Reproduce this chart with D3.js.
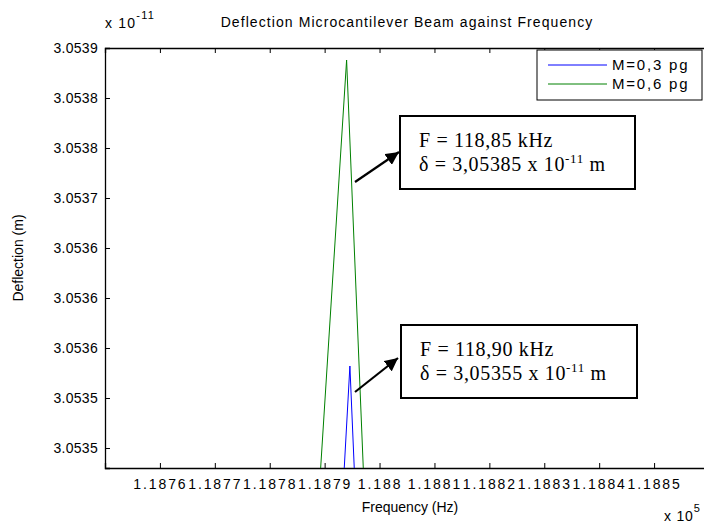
<!DOCTYPE html>
<html>
<head>
<meta charset="utf-8">
<script src="https://cdn.jsdelivr.net/npm/d3@7"></script>
<style>
  html, body { margin: 0; padding: 0; background: #fff; }
  svg { display: block; }
  text { font-family: "Liberation Sans", Arial, sans-serif; fill: #000; }
  .serif { font-family: "Liberation Serif", "Times New Roman", serif; }
</style>
</head>
<body>
<svg id="chart" width="704" height="524"></svg>
<script>
// ---- data (frequency in units of 1e5 Hz, deflection in units of 1e-11 m) ----
const seriesNames = ["M=0,3 pg", "M=0,6 pg"];
const seriesColors = ["#0000ff", "#008000"];
const freqBlue = [1.18792, 1.187946, 1.18797];
const deflBlue = [3.053274, 3.053532, 3.053223];
const freqGreen = [1.18785, 1.187940, 1.18800];
const deflGreen = [3.053061, 3.053838, 3.053032];

const xTickValues = [1.1876, 1.1877, 1.1878, 1.1879, 1.1880, 1.1881, 1.1882, 1.1883, 1.1884, 1.1885];
const xTickLabels = ["1.1876", "1.1877", "1.1878", "1.1879", "1.188", "1.1881", "1.1882", "1.1883", "1.1884", "1.1885"];
const yTickValues = [3.05385, 3.05380, 3.05375, 3.05370, 3.05365, 3.05360, 3.05355, 3.05350, 3.05345];
const yTickLabels = ["3.0539", "3.0538", "3.0538", "3.0537", "3.0536", "3.0536", "3.0536", "3.0535", "3.0535"];

const titleText = "Deflection Microcantilever Beam against Frequency";
const xLabel = "Frequency (Hz)";
const yLabel = "Deflection (m)";
const annotations = [
  { f: "F = 118,85 kHz", d: "3,05385" },
  { f: "F = 118,90 kHz", d: "3,05355" }
];

// ---- layout ----
const svg = d3.select("#chart");
const L = 105, R = 709, T = 48, B = 468;
const x = d3.scaleLinear().domain([1.1875, 1.1886]).range([L, R]);
const y = d3.scaleLinear().domain([3.05343, 3.05385]).range([B, T]);

svg.append("defs").append("clipPath").attr("id", "plotclip")
  .append("rect").attr("x", L).attr("y", T).attr("width", R - L).attr("height", B - T);

// axes
const xAxisB = d3.axisBottom(x).tickValues(xTickValues).tickSize(-5).tickPadding(11)
  .tickFormat((d, i) => xTickLabels[i]);
const xAxisT = d3.axisTop(x).tickValues(xTickValues).tickSize(-5).tickFormat("");
const yAxisL = d3.axisLeft(y).tickValues(yTickValues).tickSize(-5).tickPadding(7)
  .tickFormat((d, i) => yTickLabels[i]);

function styleAxis(g) {
  g.select(".domain").attr("stroke", "#000").attr("stroke-width", 1.3);
  g.selectAll(".tick line").attr("stroke", "#000");
  g.selectAll("text").attr("font-size", 14).attr("fill", "#000")
    .attr("font-family", "Liberation Sans, Arial, sans-serif");
}
svg.append("g").attr("transform", `translate(0,${B})`).call(xAxisB).call(styleAxis)
  .selectAll("text").attr("letter-spacing", "1.9px");
svg.append("g").attr("transform", `translate(0,${T})`).call(xAxisT).call(styleAxis);
svg.append("g").attr("transform", `translate(${L},0)`).call(yAxisL).call(styleAxis)
  .selectAll("text").attr("letter-spacing", "0.3px");
svg.append("g").attr("transform", `translate(${R},0)`)
  .call(d3.axisRight(y).tickValues(yTickValues).tickSize(-5).tickFormat("")).call(styleAxis);

// lines
const line = d3.line().x(d => x(d[0])).y(d => y(d[1]));
const plot = svg.append("g").attr("clip-path", "url(#plotclip)");
plot.append("path").datum(freqGreen.map((f, i) => [f, deflGreen[i]]))
  .attr("d", line).attr("fill", "none").attr("stroke", seriesColors[1]).attr("stroke-width", 1);
plot.append("path").datum(freqBlue.map((f, i) => [f, deflBlue[i]]))
  .attr("d", line).attr("fill", "none").attr("stroke", seriesColors[0]).attr("stroke-width", 1);

// title & labels
svg.append("text").attr("x", 407).attr("y", 27).attr("text-anchor", "middle")
  .attr("font-size", 14).attr("letter-spacing", "1.08px").text(titleText);
const ex = svg.append("text").attr("x", 105).attr("y", 28).attr("font-size", 14).attr("letter-spacing", "1.2px");
ex.append("tspan").text("x 10");
ex.append("tspan").attr("dy", -9).attr("font-size", 11).text("-11");
svg.append("text").attr("x", 410).attr("y", 512).attr("text-anchor", "middle")
  .attr("font-size", 14).text(xLabel);
svg.append("text").attr("transform", `translate(23,${(T + B) / 2}) rotate(-90)`)
  .attr("text-anchor", "middle").attr("font-size", 14).text(yLabel);
const ex2 = svg.append("text").attr("x", 664).attr("y", 521).attr("font-size", 14).attr("letter-spacing", "0.8px");
ex2.append("tspan").text("x 10");
ex2.append("tspan").attr("dy", -9).attr("font-size", 11).text("5");

// legend
const lg = svg.append("g");
lg.append("rect").attr("x", 537).attr("y", 50).attr("width", 165).attr("height", 50)
  .attr("fill", "#fff").attr("stroke", "#000").attr("stroke-width", 1);
seriesNames.forEach((name, i) => {
  const yy = 65 + i * 19;
  lg.append("line").attr("x1", 548).attr("x2", 607).attr("y1", yy).attr("y2", yy)
    .attr("stroke", seriesColors[i]).attr("stroke-width", 1);
  lg.append("text").attr("x", 612).attr("y", yy + 5).attr("font-size", 15)
    .attr("letter-spacing", "1.8px").text(name);
});

// annotations
svg.append("defs").append("marker").attr("id", "arrowhead")
  .attr("viewBox", "0 0 10 10").attr("refX", 10).attr("refY", 5)
  .attr("markerWidth", 6).attr("markerHeight", 6).attr("orient", "auto")
  .append("path").attr("d", "M0,0 L10,5 L0,10 z").attr("fill", "#000");

const boxes = [
  { bx: 400, by: 116, bw: 235, bh: 73, ax1: 355, ay1: 182, ax2: 399, ay2: 152 },
  { bx: 401, by: 325, bw: 236, bh: 73, ax1: 355, ay1: 392, ax2: 398, ay2: 358 }
];
boxes.forEach((b, i) => {
  const g = svg.append("g");
  g.append("rect").attr("x", b.bx).attr("y", b.by).attr("width", b.bw).attr("height", b.bh)
    .attr("fill", "#fff").attr("stroke", "#000").attr("stroke-width", 2);
  g.append("line").attr("x1", b.ax1).attr("y1", b.ay1).attr("x2", b.ax2).attr("y2", b.ay2)
    .attr("stroke", "#000").attr("stroke-width", 2.2).attr("marker-end", "url(#arrowhead)");
  g.append("text").attr("class", "serif").attr("x", b.bx + 19).attr("y", b.by + 31)
    .attr("font-size", 20).attr("letter-spacing", "0.65px").text(annotations[i].f);
  const t2 = g.append("text").attr("class", "serif").attr("x", b.bx + 19).attr("y", b.by + 55)
    .attr("font-size", 20).attr("letter-spacing", "0.65px");
  t2.append("tspan").text("δ = " + annotations[i].d + " x 10");
  t2.append("tspan").attr("dy", -8).attr("font-size", 13).text("-11");
  t2.append("tspan").attr("dy", 8).text(" m");
});
</script>
</body>
</html>
